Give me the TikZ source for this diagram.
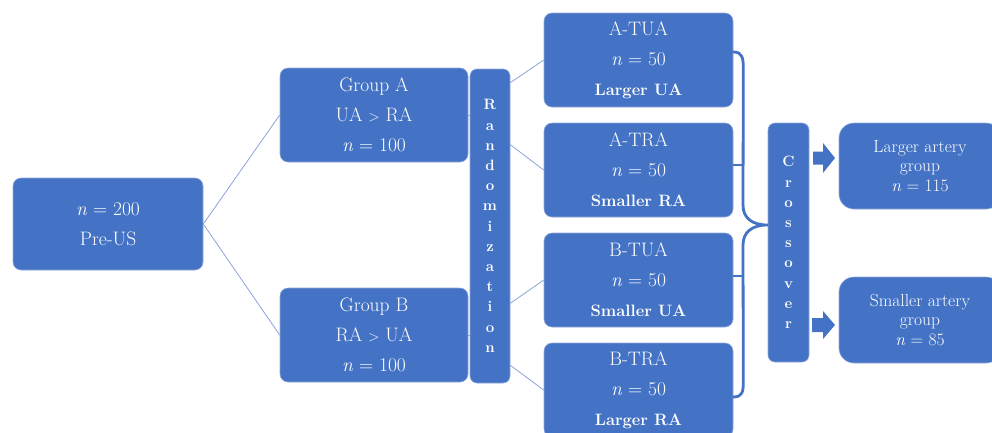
\documentclass[tikz,border=0pt]{standalone}
\usepackage{fontspec}
\usetikzlibrary{calc}
\definecolor{boxblue}{HTML}{4472C4}
\definecolor{edgeblue}{HTML}{8EA9DB}
\definecolor{linkblue}{HTML}{8AA5D8}
\newcommand{\nn}{\textit{n}}
\newcommand{\bl}[1]{{\bfseries\fontsize{16.5}{30}\selectfont #1}}
\begin{document}
\begin{tikzpicture}[x=1pt,y=-1pt,
  box/.style={rectangle, rounded corners=8pt, fill=boxblue, draw=edgeblue, line width=0.6pt,
    text=white, align=center, inner sep=0pt, font=\fontsize{19.5}{30}\selectfont},
  tallbox/.style={box, rounded corners=7pt, font=\bfseries\fontsize{15}{20.2}\selectfont},
  outbox/.style={box, rounded corners=15pt, font=\fontsize{17.5}{19.5}\selectfont},
  link/.style={draw=linkblue, line width=0.8pt},
  bracepath/.style={draw=boxblue, line width=2.8pt},
  blockarrow/.style={fill=boxblue}
]
\useasboundingbox (0,0) rectangle (992,432);
\clip (0,0) rectangle (992,432);

% first column
\node[box, minimum width=190pt, minimum height=92pt] (pre) at (108,224) {\nn{} = 200\\Pre-US};
\node[box, minimum width=188pt, minimum height=94pt] (ga) at (374,115) {Group A\\UA {\fontsize{15}{15}\selectfont >} RA\\\nn{} = 100};
\node[box, minimum width=188pt, minimum height=94pt] (gb) at (374,335) {Group B\\RA {\fontsize{15}{15}\selectfont >} UA\\\nn{} = 100};
\node[tallbox, minimum width=40pt, minimum height=314pt] (rand) at (490,226)
  {R\\a\\n\\d\\o\\m\\i\\z\\a\\t\\i\\o\\n};

% right column
\node[box, minimum width=189pt, minimum height=94pt] (atua) at (638.5,60)
  {A-TUA\\\nn{} = 50\\\bl{Larger UA}};
\node[box, minimum width=189pt, minimum height=94pt] (atra) at (638.5,170)
  {A-TRA\\\nn{} = 50\\\bl{Smaller RA}};
\node[box, minimum width=189pt, minimum height=94pt] (btua) at (638.5,280)
  {B-TUA\\\nn{} = 50\\\bl{Smaller UA}};
\node[box, minimum width=189pt, minimum height=94pt] (btra) at (638.5,390)
  {B-TRA\\\nn{} = 50\\\bl{Larger RA}};

\node[tallbox, minimum width=41pt, minimum height=239pt] (cross) at (788.5,242.5)
  {C\\r\\o\\s\\s\\o\\v\\e\\r};

\node[outbox, minimum width=162pt, minimum height=86pt] (large) at (920,166)
  {Larger artery\\group\\\nn{} = 115};
\node[outbox, minimum width=162pt, minimum height=86pt] (small) at (920,320)
  {Smaller artery\\group\\\nn{} = 85};

% connectors
\draw[link] (ga.west) -- (pre.east) -- (gb.west);
\draw[link] (ga.east) -- (ga.east -| rand.west);
\draw[link] (gb.east) -- (gb.east -| rand.west);
\draw[link] ($(rand.north east)+(0,14)$) -- (atua.west);
\draw[link] ($(rand.north east)+(0,76)$) -- (atra.west);
\draw[link] ($(rand.south east)+(0,-80)$) -- (btua.west);
\draw[link] ($(rand.south east)+(0,-18)$) -- (btra.west);

% brace
\coordinate (tip) at (cross.west |- 0,225);
\draw[bracepath, line cap=round]
  ($(atua.east)+(0,-8)$) .. controls ($(atua.east)+(9,-8)$) and ($(atua.east)+(10,-2)$) .. ($(atua.east)+(10,8)$)
  -- (743,205) .. controls (743,218) and (752,225) .. (tip)
  .. controls (752,225) and (743,232) .. (743,245)
  -- ($(btra.east)+(10,-8)$) .. controls ($(btra.east)+(10,2)$) and ($(btra.east)+(9,7)$) .. ($(btra.east)+(0,7)$);
\draw[bracepath] ($(atra.east)+(0,-5)$) -- (743,165);
\draw[bracepath] ($(btua.east)+(0,-4)$) -- (743,276);

% block arrows
\fill[blockarrow] (813,151.5) -- (823,151.5) -- (823,143) -- (835,158) -- (823,173) -- (823,164.5) -- (813,164.5) -- cycle;
\fill[blockarrow] (812,318) -- (823,318) -- (823,311) -- (835,325) -- (823,339) -- (823,332) -- (812,332) -- cycle;
\end{tikzpicture}
\end{document}
